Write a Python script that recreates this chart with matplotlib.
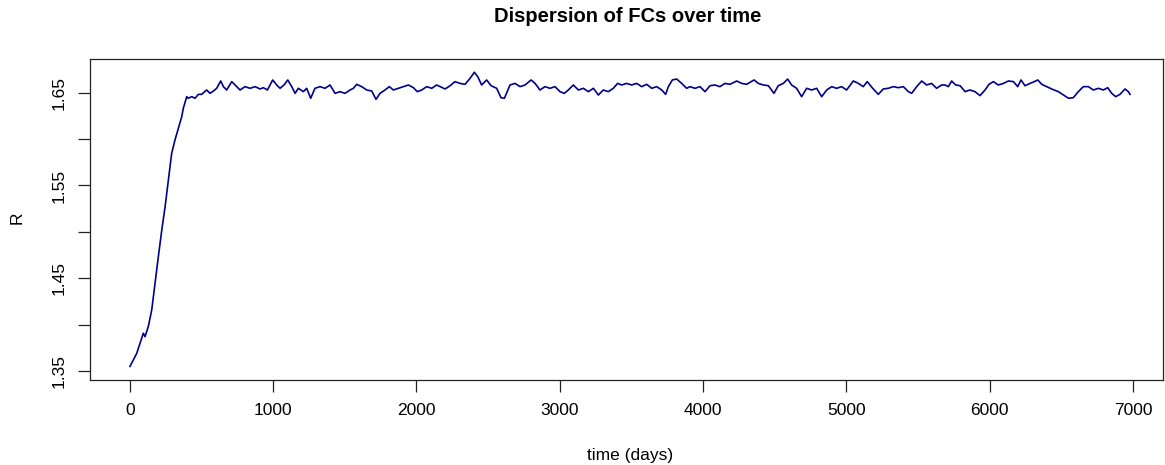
import matplotlib
matplotlib.use("Agg")
import matplotlib.pyplot as plt

plt.rcParams['font.family'] = ['Liberation Sans', 'DejaVu Sans']

# Rising phase
days_rise = [1, 48, 71, 94, 106, 129, 153, 176, 199, 223, 246, 269, 292, 315, 339, 362, 373]
R_rise = [1.355, 1.369, 1.380, 1.3907, 1.387, 1.398, 1.416, 1.4446, 1.4733, 1.502,
          1.527, 1.556, 1.5847, 1.599, 1.6116, 1.624, 1.633]

# Plateau, first segment
days_a = [397, 408, 432, 455, 478, 501, 536, 560, 583, 606, 634, 653, 676, 711, 746,
          769, 804, 839, 874, 909, 932, 960, 997, 1025, 1048, 1076, 1102, 1130, 1153,
          1176, 1211, 1234, 1262, 1292, 1327, 1362, 1397, 1432, 1467, 1502, 1537, 1560,
          1583, 1618, 1653, 1688, 1718, 1746, 1781, 1811, 1839, 1874, 1909, 1944, 1979,
          2006, 2037, 2072, 2107, 2141]
R_a = [1.6457, 1.644, 1.6457, 1.644, 1.6482, 1.6482, 1.6529, 1.6493, 1.6518, 1.6547,
       1.6626, 1.6565, 1.6529, 1.6619, 1.6565, 1.6529, 1.6565, 1.6547, 1.6565, 1.654,
       1.6554, 1.6529, 1.6637, 1.6583, 1.6547, 1.6583, 1.6637, 1.6565, 1.6493, 1.6547,
       1.6511, 1.6547, 1.644, 1.6547, 1.6565, 1.6547, 1.6583, 1.6493, 1.6511, 1.6493,
       1.6529, 1.6547, 1.659, 1.6565, 1.6529, 1.6518, 1.6428, 1.6493, 1.6529, 1.6565,
       1.6529, 1.6547, 1.6565, 1.6583, 1.6554, 1.6511, 1.6529, 1.6565, 1.6547, 1.6583]

# Plateau, second segment
days_b = [2165, 2200, 2235, 2269, 2304, 2339, 2374, 2404, 2428, 2455, 2490, 2521, 2560,
          2590, 2614, 2653, 2688, 2723, 2758, 2800, 2828, 2862, 2897, 2932, 2967, 3002,
          3032, 3060, 3095, 3130, 3165, 3200, 3235, 3270, 3304, 3339, 3374, 3404, 3432,
          3467, 3502, 3537, 3572, 3607, 3642, 3677, 3712, 3739, 3758, 3786, 3816, 3851,
          3886]
R_b = [1.6565, 1.654, 1.6575, 1.6619, 1.6600, 1.659, 1.6654, 1.672, 1.6672, 1.6583,
       1.6637, 1.6575, 1.6547, 1.6446, 1.644, 1.6583, 1.66, 1.6565, 1.6583, 1.6637,
       1.66, 1.6529, 1.6565, 1.6547, 1.6565, 1.6511, 1.6493, 1.6529, 1.6583, 1.6529,
       1.6547, 1.6511, 1.6547, 1.6475, 1.6529, 1.6511, 1.6547, 1.66, 1.6583, 1.66,
       1.6583, 1.66, 1.6565, 1.659, 1.6547, 1.6565, 1.6529, 1.6482, 1.6565, 1.6637,
       1.6647, 1.66, 1.6547]

# Plateau, third segment
days_c = [3909, 3944, 3979, 4014, 4049, 4083, 4118, 4153, 4188, 4235, 4270, 4304, 4356,
          4386, 4421, 4456, 4495, 4525, 4560, 4591, 4618, 4653, 4688, 4723, 4758, 4793,
          4828, 4863, 4898, 4932, 4967, 5002, 5049, 5084, 5118, 5146, 5184, 5223, 5258,
          5293, 5328, 5363, 5398, 5433, 5456, 5491, 5526, 5560, 5595, 5630, 5665]
R_c = [1.6565, 1.6547, 1.6565, 1.6511, 1.6575, 1.6583, 1.6565, 1.66, 1.659, 1.6626,
       1.66, 1.659, 1.6637, 1.66, 1.6583, 1.6575, 1.6493, 1.6575, 1.66, 1.6647,
       1.6583, 1.6547, 1.6457, 1.6547, 1.6529, 1.6547, 1.6457, 1.6529, 1.6565, 1.6547,
       1.6565, 1.6529, 1.6626, 1.66, 1.6565, 1.6619, 1.6547, 1.6482, 1.654, 1.6547,
       1.6565, 1.6554, 1.6565, 1.6511, 1.6493, 1.6565, 1.6626, 1.6583, 1.66, 1.6547,
       1.6583]

# Plateau, last segment
days_d = [5689, 5712, 5735, 5763, 5794, 5829, 5863, 5898, 5933, 5968, 5996, 6026, 6061,
          6096, 6131, 6166, 6196, 6219, 6247, 6282, 6312, 6336, 6364, 6398, 6433, 6480,
          6515, 6550, 6584, 6619, 6654, 6689, 6724, 6759, 6794, 6824, 6852, 6880, 6910,
          6945, 6968, 6980]
R_d = [1.6583, 1.6565, 1.6626, 1.6583, 1.6575, 1.6511, 1.6529, 1.6511, 1.6468, 1.6529,
       1.659, 1.6619, 1.6583, 1.66, 1.6626, 1.6619, 1.6565, 1.6637, 1.6575, 1.66,
       1.6619, 1.6637, 1.659, 1.6565, 1.654, 1.6511, 1.6475, 1.644, 1.6446, 1.6511,
       1.6565, 1.6565, 1.6529, 1.6547, 1.6529, 1.6554, 1.6493, 1.6457, 1.6482, 1.654,
       1.6511, 1.6482]

days = days_rise + days_a + days_b + days_c + days_d
R_values = R_rise + R_a + R_b + R_c + R_d

x_ticks = [0, 1000, 2000, 3000, 4000, 5000, 6000, 7000]
y_ticks = [1.35, 1.40, 1.45, 1.50, 1.55, 1.60, 1.65]
y_tick_labels = ["1.35", "", "1.45", "", "1.55", "", "1.65"]

fig = plt.figure(figsize=(11.65, 4.65), dpi=100)
ax = fig.add_axes([90/1165, 85/465, 1073/1165, 321/465])
ax.plot(days, R_values, color="#00008B", lw=1.2)

ax.set_xlim(-278, 7210)
ax.set_ylim(1.3403, 1.6863)
ax.set_xticks(x_ticks)
ax.set_xticklabels([str(t) for t in x_ticks])
ax.set_yticks(y_ticks)
ax.set_yticklabels(y_tick_labels, rotation=90, va='center')
ax.tick_params(direction='out', length=8.5, width=0.9, labelsize=12.5, color='#222222',
               pad=8)
for s in ax.spines.values():
    s.set_linewidth(0.9)
    s.set_color('#222222')

fig.text(628/1165, 1 - 17/465, "Dispersion of FCs over time", ha='center', va='center',
         fontsize=14.5, fontweight='bold')
fig.text(630/1165, 1 - 455/465, "time (days)", ha='center', va='center', fontsize=12.5)
fig.text(17/1165, 1 - 218/465, "R", ha='center', va='center', fontsize=12.5, rotation=90)

fig.savefig("out.png", dpi=100)
